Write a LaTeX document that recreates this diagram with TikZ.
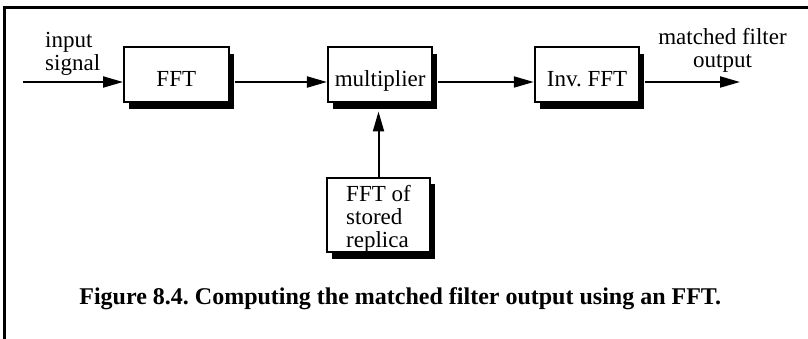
\documentclass[tikz,border=0pt]{standalone}
\usepackage{fontspec}
\setmainfont{Liberation Serif}
\usetikzlibrary{arrows.meta,shadows,calc}
\begin{document}
\frenchspacing
\begin{tikzpicture}[x=1pt,y=-1pt,
  blk/.style={draw,line width=2pt,fill=white,inner sep=0pt,
    minimum width=104.5pt,minimum height=55pt,text height=24pt,text depth=0pt,
    font=\fontsize{23}{22.5}\selectfont,
    drop shadow={shadow xshift=5pt,shadow yshift=-6.5pt,fill=black,opacity=1}},
  conn/.style={line width=2pt,-{Triangle[length=20pt,width=11pt]}},
  lbl/.style={inner sep=0pt,font=\fontsize{23}{22.5}\selectfont},
  figcaption/.style={inner sep=0pt,font=\bfseries\fontsize{24}{27}\selectfont}]
\useasboundingbox (0,0) rectangle (808,339);
\draw[line width=3pt] (808,8) -- (4.5,8) -- (4.5,339);

\node[blk] (fft) at (176.3,75) {FFT};
\node[blk] (mul) at (380.2,75) {multiplier};
\node[blk] (inv) at (587,75) {Inv. FFT};
\node[blk,minimum width=103pt,minimum height=74.6pt,text height=64pt,text depth=0pt] (rep) at (378.5,215)
  {\begin{tabular}[b]{@{}l@{}}FFT of\\stored\\replica\end{tabular}\hspace{5pt}};

\node[lbl,anchor=base west] (inlbl) at (45,48) {\begin{tabular}[t]{@{}l@{}}input\\signal\end{tabular}};
\node[lbl,anchor=base] (outlbl) at (722.5,45) {\begin{tabular}[t]{@{}c@{}}matched filter\\output\end{tabular}};

\coordinate (src) at (23,82);
\coordinate (sink) at (740,82);

\draw[conn] (src) -- (src -| fft.west);
\draw[conn] ($(fft.east)+(5,7)$) -- ($(mul.west)+(0,7)$);
\draw[conn] ($(mul.east)+(5,7)$) -- ($(inv.west)+(0,7)$);
\draw[conn] ($(inv.east)+(5,7)$) -- (sink);
\draw[conn] (rep.north) -- ($(rep.north |- mul.south)+(0,8)$);

\node[figcaption,anchor=base] (caption) at (400.3,304) {Figure 8.4. Computing the matched filter output using an FFT.};
\end{tikzpicture}
\end{document}
